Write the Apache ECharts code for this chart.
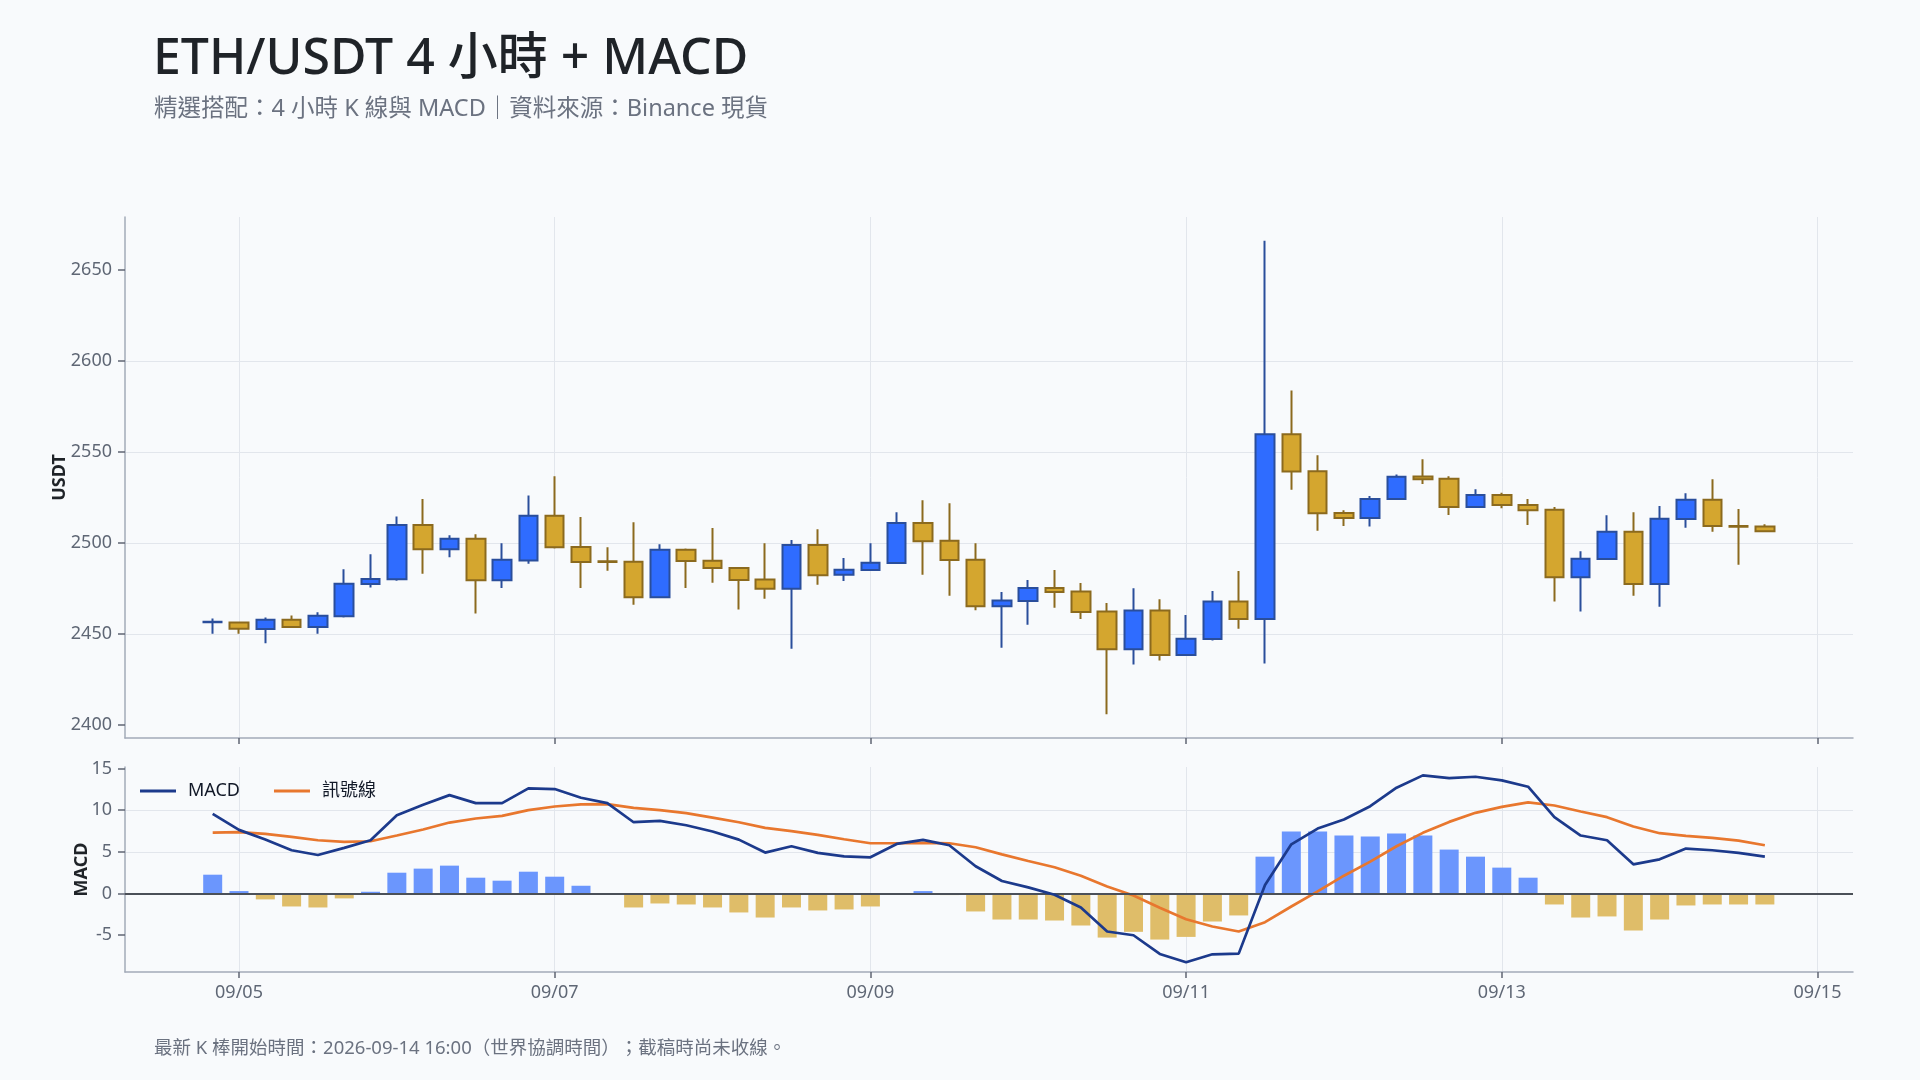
<!DOCTYPE html>
<html><head><meta charset="utf-8">
<script src="https://cdn.jsdelivr.net/npm/echarts@6/dist/echarts.min.js"></script>
<style>html,body{margin:0;padding:0;background:#f8fafc;}#chart{width:1920px;height:1080px;}</style>
</head><body><div id="chart"></div>
<script>
const times = [
'2026-09-04 20:00',
'2026-09-05 00:00','2026-09-05 04:00','2026-09-05 08:00','2026-09-05 12:00','2026-09-05 16:00','2026-09-05 20:00',
'2026-09-06 00:00','2026-09-06 04:00','2026-09-06 08:00','2026-09-06 12:00','2026-09-06 16:00','2026-09-06 20:00',
'2026-09-07 00:00','2026-09-07 04:00','2026-09-07 08:00','2026-09-07 12:00','2026-09-07 16:00','2026-09-07 20:00',
'2026-09-08 00:00','2026-09-08 04:00','2026-09-08 08:00','2026-09-08 12:00','2026-09-08 16:00','2026-09-08 20:00',
'2026-09-09 00:00','2026-09-09 04:00','2026-09-09 08:00','2026-09-09 12:00','2026-09-09 16:00','2026-09-09 20:00',
'2026-09-10 00:00','2026-09-10 04:00','2026-09-10 08:00','2026-09-10 12:00','2026-09-10 16:00','2026-09-10 20:00',
'2026-09-11 00:00','2026-09-11 04:00','2026-09-11 08:00','2026-09-11 12:00','2026-09-11 16:00','2026-09-11 20:00',
'2026-09-12 00:00','2026-09-12 04:00','2026-09-12 08:00','2026-09-12 12:00','2026-09-12 16:00','2026-09-12 20:00',
'2026-09-13 00:00','2026-09-13 04:00','2026-09-13 08:00','2026-09-13 12:00','2026-09-13 16:00','2026-09-13 20:00',
'2026-09-14 00:00','2026-09-14 04:00','2026-09-14 08:00','2026-09-14 12:00','2026-09-14 16:00'
];
const openVals = [2456.4,2456.3,2452.7,2457.8,2453.8,2459.7,2477.4,2480.1,2509.9,2496.5,
2502.3,2479.5,2490.4,2515.0,2497.8,2489.9,2489.7,2470.2,2496.3,2490.3,
2486.3,2479.9,2474.8,2498.9,2482.5,2485.2,2489.0,2511.0,2501.2,2490.8,
2465.3,2468.2,2475.3,2473.3,2462.3,2441.7,2462.9,2438.5,2447.2,2467.8,
2458.2,2559.7,2539.4,2516.5,2513.7,2524.2,2536.5,2535.2,2519.7,2526.3,
2520.8,2518.2,2481.2,2491.2,2506.1,2477.4,2513.1,2523.7,2509.3,2509.0];
const closeVals = [2456.8,2452.9,2457.8,2453.8,2460.0,2477.6,2480.2,2509.9,2496.5,2502.3,
2479.5,2490.8,2515.0,2497.6,2489.5,2489.6,2470.2,2496.3,2490.1,2486.3,
2479.7,2474.8,2498.9,2482.3,2485.3,2489.1,2511.0,2501.0,2490.6,2465.3,
2468.4,2475.3,2473.1,2462.1,2441.7,2462.9,2438.5,2447.4,2467.8,2458.2,
2559.7,2539.2,2516.3,2513.7,2524.2,2536.3,2535.0,2519.7,2526.3,2520.8,
2518.0,2481.2,2491.4,2506.1,2477.4,2513.3,2523.7,2509.3,2508.9,2506.5];
const lowVals = [2450.2,2450.2,2444.9,2453.6,2450.2,2459.1,2475.5,2479.3,2483.1,2492.1,
2461.2,2475.3,2488.6,2496.9,2475.3,2484.8,2466.1,2470.0,2475.3,2478.2,
2463.4,2469.3,2441.9,2477.0,2479.1,2485.0,2488.8,2482.5,2471.0,2463.1,
2442.5,2455.1,2464.4,2458.3,2405.9,2433.2,2435.5,2438.3,2446.5,2452.9,
2433.8,2529.2,2506.7,2509.3,2509.1,2524.0,2532.4,2515.4,2519.5,2519.1,
2509.9,2467.8,2462.3,2491.0,2471.0,2465.0,2508.4,2506.1,2488.0,2506.3];
const highVals = [2458.5,2456.5,2459.1,2460.2,2461.9,2485.5,2493.8,2514.6,2524.1,2504.2,
2504.8,2499.9,2526.1,2536.7,2514.2,2497.6,2511.4,2499.3,2497.0,2508.2,
2486.5,2499.9,2501.6,2507.6,2491.8,2499.9,2516.9,2523.5,2521.8,2499.9,
2473.1,2479.7,2485.2,2478.0,2467.0,2475.2,2469.1,2460.4,2473.6,2484.6,
2666.0,2583.7,2548.2,2518.0,2525.8,2537.6,2546.0,2536.7,2529.5,2527.6,
2524.1,2519.7,2495.5,2515.2,2516.9,2520.3,2527.3,2535.0,2518.6,2510.3];
const macdVals = [9.57,7.64,6.47,5.19,4.62,5.47,6.39,9.41,10.66,11.82,
10.86,10.86,12.63,12.55,11.50,10.86,8.56,8.73,8.20,7.45,
6.47,4.91,5.67,4.87,4.46,4.34,5.95,6.43,5.79,3.26,
1.49,0.72,-0.16,-1.69,-4.58,-5.03,-7.28,-8.28,-7.32,-7.24,
1.01,5.90,7.80,8.89,10.49,12.71,14.19,13.87,14.03,13.59,
12.83,9.17,6.96,6.39,3.50,4.10,5.39,5.19,4.87,4.42];
const signalVals = [7.32,7.36,7.16,6.80,6.39,6.19,6.27,6.96,7.68,8.52,
9.01,9.33,10.01,10.45,10.70,10.74,10.29,10.01,9.65,9.12,
8.56,7.88,7.48,7.04,6.51,6.03,6.03,6.07,6.03,5.55,
4.70,3.90,3.14,2.13,0.84,-0.24,-1.73,-3.10,-3.98,-4.58,
-3.46,-1.57,0.24,2.13,3.82,5.67,7.28,8.60,9.69,10.41,
10.94,10.57,9.85,9.17,8.04,7.24,6.92,6.67,6.35,5.79];
const histVals = [2.25,0.28,-0.72,-1.57,-1.69,-0.60,0.20,2.49,2.98,3.34,
1.89,1.53,2.61,2.01,0.92,0.04,-1.69,-1.21,-1.33,-1.69,
-2.29,-2.90,-1.69,-2.05,-1.93,-1.57,-0.08,0.28,-0.20,-2.17,
-3.14,-3.14,-3.26,-3.86,-5.31,-4.62,-5.55,-5.23,-3.38,-2.65,
4.42,7.44,7.44,6.96,6.84,7.20,6.96,5.27,4.42,3.10,
1.89,-1.33,-2.90,-2.77,-4.46,-3.14,-1.45,-1.33,-1.33,-1.33];
const xTickDates = ['2026-09-05','2026-09-07','2026-09-09','2026-09-11','2026-09-13','2026-09-15'];
const priceTicks = [2400,2450,2500,2550,2600,2650];
const macdTicks = [-5,0,5,10,15];

function toUTC(s){
  return Date.UTC(+s.slice(0,4), +s.slice(5,7)-1, +s.slice(8,10),
    s.length>10 ? +s.slice(11,13) : 0, s.length>10 ? +s.slice(14,16) : 0);
}
const ts = times.map(toUTC);
const xTickTs = xTickDates.map(toUTC);
const xMin = Date.UTC(2026,8,4,6,40);
const xMax = Date.UTC(2026,8,15,5,24);

const FONT = '"Noto Sans","Noto Sans CJK TC",sans-serif';
const UP = '#2f6cff', DOWN = '#d4a62f', UPB = '#2a4e9b', DOWNB = '#8b6a1e';
const GRIDC = '#e2e6ec', AXISC = '#a3abb8', LABELC = '#5f6775';

const candleData = ts.map((t,i)=>[t, openVals[i], closeVals[i], lowVals[i], highVals[i]]);
const macdData = ts.map((t,i)=>[t, macdVals[i]]);
const signalData = ts.map((t,i)=>[t, signalVals[i]]);
const histData = ts.map((t,i)=>[t, histVals[i]]);

function fmtDate(v){
  const d = new Date(v);
  const m = String(d.getUTCMonth()+1).padStart(2,'0');
  const dd = String(d.getUTCDate()).padStart(2,'0');
  return m + '/' + dd;
}
function xAxisDef(gi, showLabel){
  return {
    type:'value', gridIndex:gi, min:xMin, max:xMax, scale:true,
    axisLine:{show:true, onZero:false, lineStyle:{color:AXISC, width:1.5}},
    axisTick:{show:true, length:6, customValues:xTickTs, lineStyle:{color:'#5f6673', width:1.5}},
    axisLabel:{show:showLabel, customValues:xTickTs, formatter:fmtDate, color:LABELC, fontSize:18, margin:12, fontFamily:FONT},
    splitLine:{show:true, lineStyle:{color:GRIDC, width:1}},
    minorTick:{show:false}
  };
}
function yAxisDef(gi, name, nameGap, mn, mx, ticks){
  return {
    type:'value', gridIndex:gi, min:mn, max:mx, name:name, nameLocation:'middle', nameGap:nameGap, nameRotate:90,
    nameMoveOverlap:false,
    nameTextStyle:{fontSize:18, fontWeight:'bold', color:'#1f2328', fontFamily:FONT},
    axisLine:{show:true, onZero:false, lineStyle:{color:AXISC, width:1.5}},
    axisTick:{show:true, length:7, customValues:ticks, lineStyle:{color:'#5f6673', width:1.5}},
    axisLabel:{customValues:ticks, color:LABELC, fontSize:18, margin:13, fontFamily:FONT,
      formatter:function(v){ return String(v); }},
    splitLine:{show:true, lineStyle:{color:GRIDC, width:1}, showMinLine:false, showMaxLine:false}
  };
}

const chart = echarts.init(document.getElementById('chart'), null, {renderer:'canvas'});
chart.setOption({
  animation:false,
  backgroundColor:'#f8fafc',
  textStyle:{fontFamily:FONT},
  title:[
    {text:'ETH/USDT 4 小時 + MACD', left:153, top:35, padding:0,
     textStyle:{fontSize:50, fontWeight:500, color:'#1f2328', fontFamily:FONT}},
    {text:'精選搭配：4 小時 K 線與 MACD｜資料來源：Binance 現貨', left:154, top:98, padding:0,
     textStyle:{fontSize:23.5, fontWeight:'normal', color:'#6b7280', fontFamily:FONT}},
    {text:'最新 K 棒開始時間：2026-09-14 16:00（世界協調時間）；截稿時尚未收線。', left:154, top:1039, padding:0,
     textStyle:{fontSize:18.5, fontWeight:'normal', color:'#6b7280', fontFamily:FONT}}
  ],
  legend:{
    data:['MACD','訊號線'], left:135, top:777, icon:'rect', itemWidth:36, itemHeight:3, itemGap:34,
    textStyle:{fontSize:18, color:'#111827', fontFamily:FONT, padding:[0,0,0,7]}
  },
  grid:[
    {left:125, right:67, top:217, height:521},
    {left:125, right:67, top:767, height:205}
  ],
  xAxis:[xAxisDef(0,false), xAxisDef(1,true)],
  yAxis:[
    yAxisDef(0,'USDT',56,2392.9,2679.0,priceTicks),
    yAxisDef(1,'MACD',34,-9.45,15.2,macdTicks)
  ],
  series:[
    {type:'candlestick', name:'K', xAxisIndex:0, yAxisIndex:0, data:candleData, barWidth:19,
     itemStyle:{color:UP, color0:DOWN, borderColor:UPB, borderColor0:DOWNB, borderWidth:2}},
    {type:'bar', name:'柱狀', xAxisIndex:1, yAxisIndex:1, data:histData, barWidth:19,
     itemStyle:{color:function(p){return p.value[1] >= 0 ? '#6b96fd' : '#dfbd69';}},
     markLine:{silent:true, symbol:'none', label:{show:false}, data:[{yAxis:0}],
       lineStyle:{color:'#4b5058', width:2, type:'solid'}}},
    {type:'line', name:'MACD', xAxisIndex:1, yAxisIndex:1, data:macdData, symbol:'none', showSymbol:false,
     lineStyle:{color:'#1c3a8c', width:2.7}, itemStyle:{color:'#1c3a8c'}, z:5},
    {type:'line', name:'訊號線', xAxisIndex:1, yAxisIndex:1, data:signalData, symbol:'none', showSymbol:false,
     lineStyle:{color:'#e8772e', width:2.7}, itemStyle:{color:'#e8772e'}, z:4}
  ]
});
</script></body></html>
